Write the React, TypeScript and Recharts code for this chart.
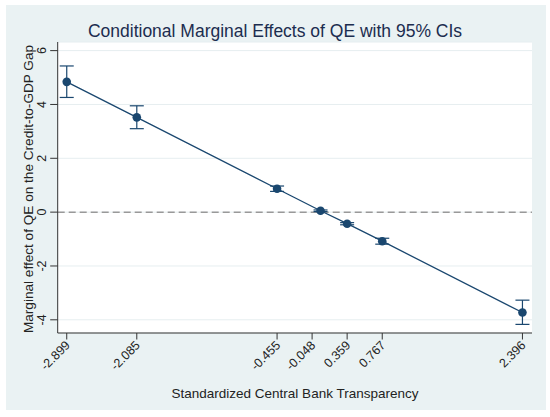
import React from "react";
import {
  ComposedChart,
  Line,
  XAxis,
  YAxis,
  CartesianGrid,
  ReferenceLine,
  ErrorBar,
} from "recharts";

// Data
const transparency = [-2.899, -2.085, -0.455, 0.05, 0.359, 0.767, 2.396];
const marginalEffect = [4.84, 3.52, 0.87, 0.05, -0.43, -1.08, -3.73];
const ciLower = [4.26, 3.1, 0.77, 0.02, -0.47, -1.19, -4.17];
const ciUpper = [5.43, 3.95, 0.97, 0.08, -0.39, -0.97, -3.27];
const xTicks = [-2.899, -2.085, -0.455, -0.048, 0.359, 0.767, 2.396];
const yTicks = [-4, -2, 0, 2, 4, 6];

const title = "Conditional Marginal Effects of QE with 95% CIs";
const xLabel = "Standardized Central Bank Transparency";
const yLabel = "Marginal effect of QE on the Credit-to-GDP Gap";

const data = transparency.map((x, i) => ({
  x,
  y: marginalEffect[i],
  err: [marginalEffect[i] - ciLower[i], ciUpper[i] - marginalEffect[i]],
}));

const FONT = "'Liberation Sans', Arial, sans-serif";
const NAVY = "#1A476F";

const XTick = (props: any) => {
  const { x, y, payload } = props;
  const ax = x + 4;
  const ay = y + 5.5;
  return (
    <text
      x={ax}
      y={ay}
      textAnchor="end"
      fontSize={12.5}
      fontFamily={FONT}
      fill="#222"
      transform={`rotate(-45 ${ax} ${ay})`}
    >
      {String(payload.value)}
    </text>
  );
};

const YTick = (props: any) => {
  const { x, y, payload } = props;
  return (
    <text
      x={x}
      y={y}
      textAnchor="middle"
      fontSize={12.5}
      fontFamily={FONT}
      fill="#222"
      transform={`rotate(-90 ${x} ${y})`}
    >
      {String(payload.value)}
    </text>
  );
};

export default function App() {
  return (
    <div
      style={{
        position: "absolute",
        left: 0,
        top: 0,
        width: 550,
        height: 417,
        background: "#ffffff",
        overflow: "hidden",
      }}
    >
      <div
        style={{
          position: "absolute",
          left: 6,
          top: 5,
          width: 540,
          height: 405,
          background: "#EAF2F3",
        }}
      />
      <div style={{ position: "absolute", left: 0, top: 0 }}>
        <ComposedChart
          width={550}
          height={417}
          data={data}
          margin={{ top: 42, right: 18, left: 0, bottom: 0 }}
        >
          <CartesianGrid
            fill="#ffffff"
            stroke="#E6EEF0"
            strokeWidth={1}
            vertical={false}
          />
          <XAxis
            type="number"
            dataKey="x"
            domain={[-3.004, 2.507]}
            ticks={xTicks}
            interval={0}
            allowDataOverflow
            height={84}
            tickSize={6.5}
            tickMargin={1}
            stroke="#333"
            tickLine={{ stroke: "#333" }}
            axisLine={{ stroke: "#333" }}
            tick={<XTick />}
          />
          <YAxis
            type="number"
            domain={[-4.49, 6.32]}
            ticks={yTicks}
            interval={0}
            allowDataOverflow
            width={57.7}
            tickSize={7.5}
            tickMargin={4}
            stroke="#333"
            tickLine={{ stroke: "#333" }}
            axisLine={{ stroke: "#333" }}
            tick={<YTick />}
          />
          <ReferenceLine
            y={0}
            stroke="#999999"
            strokeWidth={1.5}
            strokeDasharray="7 4"
          />
          <Line
            type="linear"
            dataKey="y"
            stroke={NAVY}
            strokeWidth={1.3}
            isAnimationActive={false}
            dot={{ r: 4.3, fill: NAVY, stroke: NAVY, strokeWidth: 0 }}
            activeDot={false}
          >
            <ErrorBar
              dataKey="err"
              direction="y"
              width={7}
              stroke={NAVY}
              strokeWidth={1.2}
              isAnimationActive={false}
            />
          </Line>
        </ComposedChart>
      </div>
      <svg
        width={550}
        height={417}
        style={{ position: "absolute", left: 0, top: 0, pointerEvents: "none" }}
      >
        <text
          x={275}
          y={36.5}
          textAnchor="middle"
          fontSize={17.5}
          fontFamily={FONT}
          fill="#1C2D4F"
        >
          {title}
        </text>
        <text
          x={33}
          y={189}
          textAnchor="middle"
          fontSize={13.6}
          fontFamily={FONT}
          fill="#222"
          transform="rotate(-90 33 189)"
        >
          {yLabel}
        </text>
        <text
          x={295}
          y={398}
          textAnchor="middle"
          fontSize={13.5}
          fontFamily={FONT}
          fill="#222"
        >
          {xLabel}
        </text>
      </svg>
    </div>
  );
}
